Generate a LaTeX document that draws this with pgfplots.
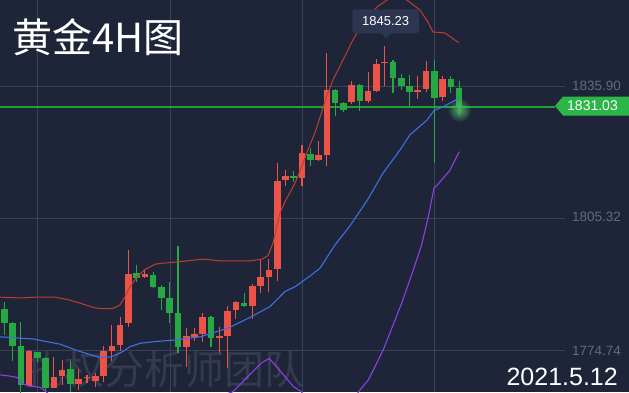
\documentclass[border=0pt]{standalone}
\usepackage{pgfplots}
\pgfplotsset{compat=1.18}
\usepackage{pgfplotstable}
\usepackage{fontspec}
\setmainfont{Liberation Sans}
\newfontfamily\cjk{Noto Sans CJK SC}
\usetikzlibrary{fadings}
\definecolor{bg}{RGB}{30,37,56}
\definecolor{gridc}{RGB}{58,66,84}
\definecolor{cred}{RGB}{235,83,72}
\definecolor{cgreen}{RGB}{38,168,66}
\definecolor{lgreen}{RGB}{44,182,72}
\definecolor{pline}{RGB}{34,160,52}
\definecolor{bandup}{RGB}{190,62,46}
\definecolor{bandmid}{RGB}{62,112,228}
\definecolor{bandlow}{RGB}{140,62,232}
\definecolor{lblgray}{RGB}{100,106,122}
\definecolor{wm}{RGB}{52,59,78}
\definecolor{boxc}{RGB}{44,54,80}
\tikzfading[name=glowfade, inner color=transparent!0, outer color=transparent!100]

\pgfplotstableread{
x o h l c
4 1766.5 1774.7 1766.2 1774.6
7 1766.0 1773.1 1765.9 1768.6
8 1768.7 1772.4 1766.6 1770.1
10 1766.9 1770.3 1765.6 1768.0
11 1768.2 1769.0 1767.1 1768.6
12 1767.6 1769.4 1766.1 1768.7
13 1768.7 1775.7 1767.4 1774.5
14 1774.6 1780.5 1772.3 1775.7
15 1775.9 1782.5 1774.5 1780.5
16 1780.9 1797.9 1780.1 1792.4
18 1791.6 1793.3 1791.5 1792.4
23 1775.5 1779.9 1770.9 1778.0
24 1777.8 1779.8 1776.9 1778.5
25 1778.5 1783.3 1776.7 1782.3
27 1777.6 1780.0 1774.1 1778.0
28 1778.1 1784.9 1770.5 1783.8
29 1784.1 1786.1 1781.9 1785.9
31 1785.0 1790.0 1781.9 1789.6
32 1789.6 1795.8 1788.0 1791.7
33 1791.7 1795.8 1788.2 1793.3
34 1793.6 1818.1 1790.8 1813.9
35 1814.1 1816.4 1812.7 1815.1
37 1814.7 1822.2 1812.7 1820.4
39 1818.8 1823.2 1818.6 1820.0
40 1819.9 1843.5 1817.4 1835.0
43 1832.3 1837.1 1831.8 1836.1
45 1832.5 1839.1 1832.0 1834.7
46 1834.7 1842.1 1834.4 1841.0
47 1841.2 1845.23 1835.9 1841.4
51 1834.6 1838.2 1833.0 1835.0
52 1835.1 1841.7 1834.4 1839.4
54 1833.3 1838.2 1832.4 1837.5
}\up

\pgfplotstableread{
x o h l c
1 1784.2 1785.9 1778.2 1781.1
2 1781.0 1781.3 1772.3 1775.7
3 1775.7 1781.3 1764.3 1766.6
5 1774.3 1774.4 1771.7 1773.0
6 1773.0 1773.2 1765.3 1766.0
9 1770.3 1772.2 1765.0 1766.9
17 1792.6 1794.4 1790.6 1791.5
19 1792.1 1792.9 1789.0 1789.4
20 1789.4 1789.8 1784.0 1786.9
21 1786.9 1790.6 1780.9 1783.4
22 1783.4 1798.8 1774.0 1775.5
26 1782.3 1782.6 1775.5 1777.6
30 1785.7 1788.0 1784.6 1785.0
36 1815.1 1816.1 1813.7 1814.7
38 1820.2 1821.5 1817.4 1818.8
41 1835.0 1835.2 1829.0 1832.0
42 1832.0 1832.3 1829.9 1830.3
44 1836.1 1836.4 1830.1 1832.5
48 1841.4 1841.9 1834.2 1837.8
49 1837.8 1838.7 1835.0 1836.0
50 1835.9 1838.5 1831.3 1834.6
53 1839.4 1841.9 1818.1 1833.2
55 1837.5 1838.3 1834.2 1835.6
56 1835.4 1837.1 1829.1 1831.03
}\down

\pgfplotsset{
  candlewick/.style={draw=none, mark=none, forget plot,
    error bars/.cd, y dir=plus, y explicit, error mark=none,
    error bar style={line width=1.1pt, draw=#1, solid}},
  candlebody/.style={draw=none, mark=none, forget plot,
    error bars/.cd, y dir=plus, y explicit, error mark=none,
    error bar style={line width=6.6pt, draw=#1, solid}},
}

\begin{document}
\begin{tikzpicture}
\fill[bg] (0,0) rectangle (629pt,392pt);
% watermark
\node[anchor=base west, inner sep=0, text=wm] at (24pt,8pt)
  {\cjk\fontsize{40}{40}\selectfont 扎权分析师团队};
% vertical grid lines
\foreach \gx in {37.3,170,302.3,434.3}{
  \draw[gridc, line width=0.8pt] (\gx pt,0) -- (\gx pt,392pt);
}
\begin{axis}[
  at={(0,0)}, anchor=south west,
  width=629pt, height=392pt, scale only axis,
  xmin=0.48, xmax=76.54, ymin=1765.02, ymax=1855.82,
  hide axis, clip=true,
]
% horizontal grid lines
\draw[gridc, line width=0.8pt] (axis cs:0.48,1835.90) -- (axis cs:68.8,1835.90);
\draw[gridc, line width=0.8pt] (axis cs:0.48,1805.32) -- (axis cs:68.8,1805.32);
\draw[gridc, line width=0.8pt] (axis cs:0.48,1774.74) -- (axis cs:68.8,1774.74);
% current price line
\draw[pline, line width=1.1pt] (axis cs:0.48,1831.03) -- (axis cs:67.59,1831.03);
% candles
\addplot[candlewick=cred] table[x=x, y=l, y error expr=\thisrow{h}-\thisrow{l}] {\up};
\addplot[candlebody=cred] table[x=x, y expr={min(\thisrow{o},\thisrow{c})}, y error expr={max(abs(\thisrow{c}-\thisrow{o}),0.3)}] {\up};
\addplot[candlewick=cgreen] table[x=x, y=l, y error expr=\thisrow{h}-\thisrow{l}] {\down};
\addplot[candlebody=cgreen] table[x=x, y expr={min(\thisrow{o},\thisrow{c})}, y error expr={max(abs(\thisrow{c}-\thisrow{o}),0.3)}] {\down};
% Bollinger bands
\addplot[draw=bandup, line width=1pt, forget plot] coordinates {
(0.48,1787.0) (2.90,1786.8) (4.95,1787.0) (7.13,1787.0) (8.94,1786.3) (10.15,1785.6)
(11.97,1784.5) (13.06,1784.3) (14.15,1784.4) (14.99,1785.2) (15.60,1787.1) (16.20,1789.4)
(17.05,1791.7) (18.01,1793.4) (19.22,1794.6) (19.83,1794.8) (21.64,1795.1) (25.03,1795.8)
(27.08,1795.4) (30.71,1795.4) (32.16,1795.8) (32.88,1796.6) (33.49,1799.5) (33.94,1803.3)
(34.34,1806.5) (34.94,1809.1) (36.15,1813.4) (36.96,1817.2) (37.72,1821.1) (38.69,1825.7)
(40.02,1833.8) (40.75,1837.3) (41.95,1841.9) (43.16,1846.6) (44.61,1851.2) (46.07,1854.2)
(47.27,1855.8) (48.48,1856.5) (49.69,1855.8) (51.26,1853.5) (52.23,1850.7) (52.84,1848.4)
(54.29,1848.2) (55.14,1847.0) (55.98,1845.9)};
\addplot[draw=bandmid, line width=1.1pt, forget plot] coordinates {
(0.48,1777.8) (4.47,1777.3) (7.74,1776.1) (10.15,1774.4) (12.57,1773.0) (13.78,1773.1)
(14.99,1774.0) (16.20,1775.5) (17.41,1776.3) (19.22,1776.7) (21.88,1777.1) (24.66,1777.8)
(28.05,1779.8) (30.71,1782.3) (33.13,1784.8) (34.94,1788.3) (36.15,1789.4) (37.97,1791.9)
(39.18,1793.7) (40.99,1799.1) (42.80,1803.5) (44.98,1809.7) (46.79,1815.7) (48.85,1821.1)
(50.06,1824.6) (52.11,1828.0) (52.96,1830.2) (54.29,1831.3) (55.98,1833.1)};
\addplot[draw=bandlow, line width=1.1pt, forget plot] coordinates {
(0.48,1769.0) (1.69,1768.7) (2.54,1768.4) (3.14,1767.0) (4.11,1766.4) (5.32,1766.1)
(5.92,1765.3) (6.53,1764.3) (12.57,1762.7) (19.83,1762.0) (25.87,1763.2) (28.65,1765.1)
(32.12,1771.8) (33.04,1772.8) (33.73,1771.3) (35.95,1766.3) (36.76,1765.3) (39.18,1760.9)
(42.20,1760.4) (44.01,1765.5) (45.02,1767.8) (46.83,1774.8) (49.05,1785.6) (50.46,1793.3)
(51.47,1799.1) (52.27,1805.6) (52.96,1812.2) (53.69,1813.7) (54.89,1816.4) (56.02,1820.7)};
\end{axis}
% glow on last candle
\fill[lgreen!80!white, path fading=glowfade, opacity=0.85] (459.3pt,282pt) circle (12pt);
% title
\node[anchor=base west, inner sep=0, text=white] at (12pt,340pt)
  {\cjk\fontsize{40}{40}\selectfont 黄金4H图};
% right price labels
\node[anchor=east, inner sep=0, text=lblgray, font=\fontsize{13.5}{14}\selectfont] at (621pt,306pt) {1835.90};
\node[anchor=east, inner sep=0, text=lblgray, font=\fontsize{13.5}{14}\selectfont] at (621pt,175pt) {1805.32};
\node[anchor=east, inner sep=0, text=lblgray, font=\fontsize{13.5}{14}\selectfont] at (621pt,41.5pt) {1774.74};
% current price tag
\fill[lgreen] (555pt,286pt) -- (563pt,295.5pt) -- (629pt,295.5pt) -- (629pt,276.5pt) -- (563pt,276.5pt) -- cycle;
\node[anchor=east, inner sep=0, text=white, font=\fontsize{14}{15}\selectfont] at (618pt,286pt) {1831.03};
% high label
\fill[boxc, rounded corners=3pt] (352.3pt,358.7pt) rectangle (419pt,382.7pt);
\fill[boxc] (380.5pt,359pt) -- (391.5pt,359pt) -- (386pt,353.5pt) -- cycle;
\node[inner sep=0, text=white, font=\fontsize{13}{14}\selectfont] at (385.6pt,370.7pt) {1845.23};
% date
\node[anchor=base east, inner sep=0, text=white, font=\fontsize{25}{26}\selectfont] at (618pt,7pt) {2021.5.12};
\pgfresetboundingbox
\path (0,0) rectangle (629pt,392pt);
\end{tikzpicture}
\end{document}
